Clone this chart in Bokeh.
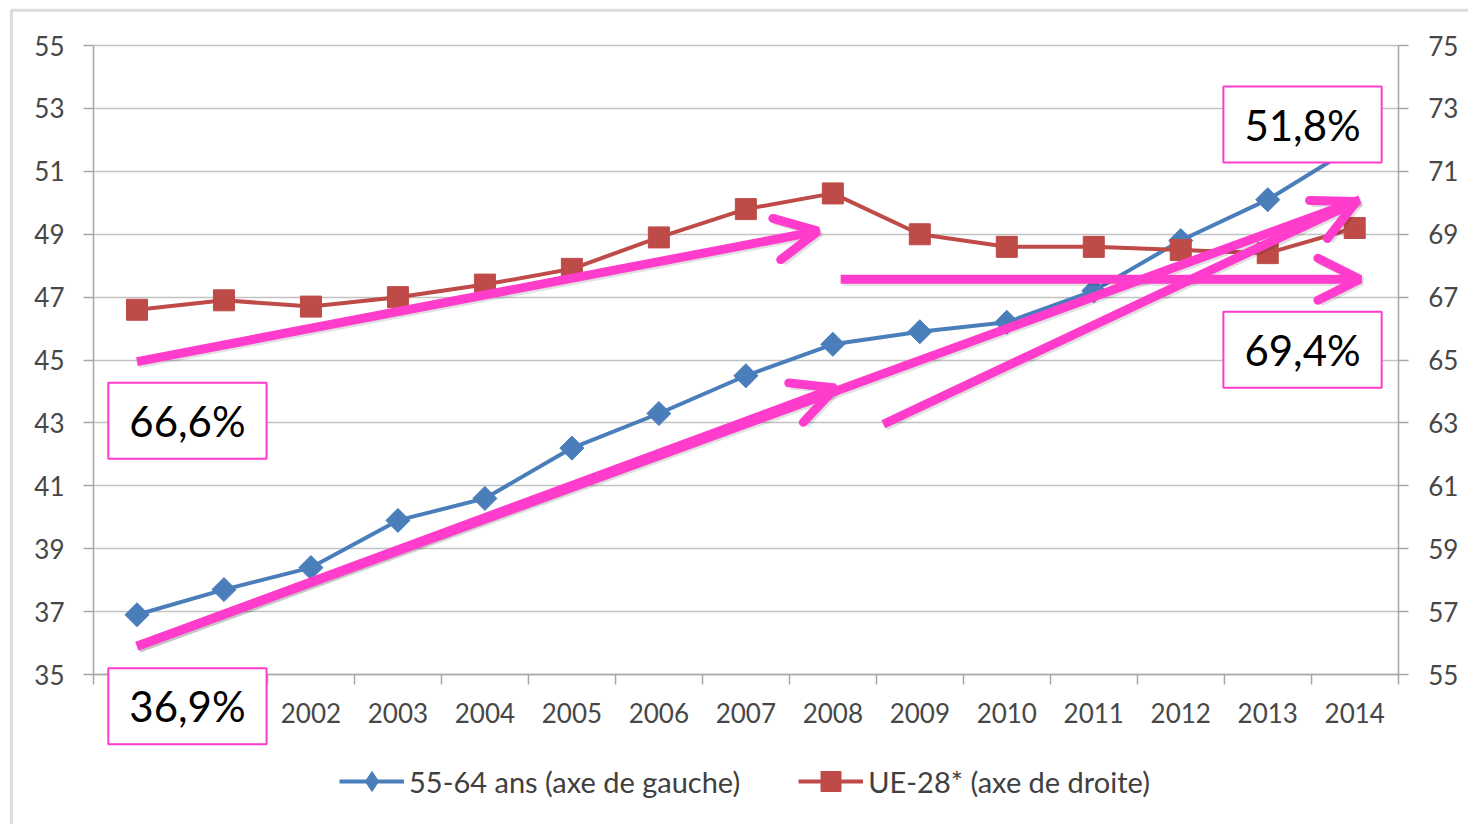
from bokeh.plotting import figure
from bokeh.models import (Range1d, LinearAxis, FixedTicker, Legend, LegendItem,
                          Label, Arrow, OpenHead, Grid, BoxAnnotation)
from bokeh.embed import file_html
from bokeh.resources import INLINE

# ---------------- data ----------------
years = ["2000", "2001", "2002", "2003", "2004", "2005", "2006", "2007",
         "2008", "2009", "2010", "2011", "2012", "2013", "2014"]
age_55_64 = [36.9, 37.7, 38.4, 39.9, 40.6, 42.2, 43.3, 44.5,
             45.5, 45.9, 46.2, 47.2, 48.8, 50.1, 51.8]
ue28 = [66.6, 66.9, 66.7, 67.0, 67.4, 67.9, 68.9, 69.8,
        70.3, 69.0, 68.6, 68.6, 68.5, 68.4, 69.2]
left_ticks = [35, 37, 39, 41, 43, 45, 47, 49, 51, 53, 55]
right_ticks = [55, 57, 59, 61, 63, 65, 67, 69, 71, 73, 75]
series_labels = ["55-64 ans (axe de gauche)", "UE-28* (axe de droite)"]

# callout boxes (text, x in year index, y on left axis)
box_texts = ["66,6%", "36,9%", "51,8%", "69,4%"]
box_x = [0.58, 0.58, 13.40, 13.40]
box_y = [43.07, 33.99, 52.49, 45.33]

# pink trend arrows (start x, start y, end x, end y, with head?)
arr_x0 = [0.0, 0.0, 0.0, 8.58, 8.09]
arr_y0 = [44.95, 35.9, 35.9, 42.96, 47.57]
arr_x1 = [7.83, 8.03, 14.06, 14.02, 14.06]
arr_y1 = [49.1, 44.11, 50.1, 50.04, 47.57]
arr_head = [True, True, False, True, True]

xs = list(range(len(years)))
n = len(years)

# ---------------- layout (pixels) ----------------
W, H = 1468, 824
PX_LEFT, PX_RIGHT = 93.0, 1397.7     # x of first/last category boundary
PX_TOP, PX_BOTTOM = 45.1, 674.0      # y of 55 / 35 on the left axis
sx = (PX_RIGHT - PX_LEFT) / n
sy = (PX_BOTTOM - PX_TOP) / (left_ticks[-1] - left_ticks[0])
x0 = -0.5 - PX_LEFT / sx
x1 = n - 0.5 + (W - PX_RIGHT) / sx
y1 = left_ticks[-1] + PX_TOP / sy
y0 = left_ticks[0] - (H - PX_BOTTOM) / sy
off = right_ticks[0] - left_ticks[0]

FONT = "Lato"
PINK = "#ff3ccc"
BLUE = "#4a7ebb"
RED = "#be4b48"
GRID = "#c2c2c2"
AXIS = "#a6a6a6"
TICKTXT = "#474747"

p = figure(frame_width=W, frame_height=H,
           min_border=0, min_border_left=0, min_border_right=0,
           min_border_top=0, min_border_bottom=0,
           x_range=Range1d(x0, x1), y_range=Range1d(y0, y1),
           output_backend="svg", toolbar_location=None,
           x_axis_type=None, y_axis_type=None)
p.extra_y_ranges = {"right": Range1d(y0 + off, y1 + off)}
p.outline_line_color = None
p.background_fill_color = "white"
p.border_fill_color = "white"

# chart border (left and top)
p.add_layout(BoxAnnotation(left=x0 + 10.9 / sx, top=y1 - 9.8 / sy,
                           right=x1 + 5, bottom=y0 - 5,
                           fill_alpha=0, line_color="#8c8c8c", line_width=3,
                           level="underlay"))

# horizontal grid limited to the plot area
grid = Grid(dimension=1, ticker=FixedTicker(ticks=left_ticks),
            cross_bounds=(-0.5, n - 0.5),
            grid_line_color=GRID, grid_line_width=1.6)
p.add_layout(grid, "center")

# x axis
xaxis = LinearAxis(ticker=FixedTicker(ticks=xs, minor_ticks=[i - 0.5 for i in range(n + 1)]),
                   major_label_overrides={i: y for i, y in enumerate(years)},
                   fixed_location=left_ticks[0], bounds=(-0.5, n - 0.5))
xaxis.major_tick_line_color = None
xaxis.major_tick_out = 10
xaxis.major_tick_in = 0
xaxis.minor_tick_line_color = AXIS
xaxis.minor_tick_line_width = 1.5
xaxis.minor_tick_out = 10
xaxis.minor_tick_in = 0
xaxis.axis_line_color = AXIS
xaxis.axis_line_width = 1.5
xaxis.major_label_text_font = FONT
xaxis.major_label_text_font_size = "26px"
xaxis.major_label_text_color = TICKTXT
xaxis.major_label_standoff = 18
p.add_layout(xaxis, "below")

# y axes
laxis = LinearAxis(ticker=FixedTicker(ticks=left_ticks), fixed_location=-0.5,
                   bounds=(left_ticks[0], left_ticks[-1]))
raxis = LinearAxis(ticker=FixedTicker(ticks=right_ticks), y_range_name="right",
                   fixed_location=n - 0.5, bounds=(right_ticks[0], right_ticks[-1]))
for ax, so in ((laxis, 19), (raxis, 20)):
    ax.major_tick_line_color = AXIS
    ax.major_tick_line_width = 1.5
    ax.major_tick_out = 10
    ax.major_tick_in = 0
    ax.minor_tick_line_color = None
    ax.axis_line_color = AXIS
    ax.axis_line_width = 1.5
    ax.major_label_text_font = FONT
    ax.major_label_text_font_size = "26px"
    ax.major_label_text_color = TICKTXT
    ax.major_label_standoff = so
p.add_layout(laxis, "left")
p.add_layout(raxis, "right")

# series
bl = p.line(xs, age_55_64, line_color=BLUE, line_width=4)
# diamond version (hidden under the markers) used for the legend swatch
bd = p.scatter(xs, age_55_64, marker="diamond", size=18,
               fill_color=BLUE, line_color=BLUE)
bs = p.scatter(xs, age_55_64, marker="square", angle=0.785398, size=17,
               fill_color=BLUE, line_color=BLUE)
rl = p.line(xs, ue28, line_color=RED, line_width=4, y_range_name="right")
rs = p.scatter(xs, ue28, marker="square", size=21, fill_color=RED, line_color=RED,
               y_range_name="right")

legend = Legend(items=[LegendItem(label=series_labels[0], renderers=[bl, bd]),
                       LegendItem(label=series_labels[1], renderers=[rl, rs])],
                orientation="horizontal", location=(339, 18),
                glyph_width=65, glyph_height=50, label_standoff=5, spacing=58,
                padding=0, margin=0, border_line_color=None,
                background_fill_alpha=0,
                label_text_font=FONT, label_text_font_size="29px",
                label_text_color="#404040")
p.add_layout(legend, "center")

# arrows: shadow then arrow
dx, dy = 2.0 / sx, -2.0 / sy
for a0, b0, a1, b1, h in zip(arr_x0, arr_y0, arr_x1, arr_y1, arr_head):
    p.add_layout(Arrow(x_start=a0 + dx, y_start=b0 + dy, x_end=a1 + dx, y_end=b1 + dy,
                       line_color="black", line_alpha=0.12, line_width=9,
                       end=OpenHead(size=42, line_color="black", line_alpha=0.12,
                                    line_width=9) if h else None))
for a0, b0, a1, b1, h in zip(arr_x0, arr_y0, arr_x1, arr_y1, arr_head):
    p.add_layout(Arrow(x_start=a0, y_start=b0, x_end=a1, y_end=b1,
                       line_color=PINK, line_width=9,
                       end=OpenHead(size=42, line_color=PINK, line_width=9,
                                    line_cap="round") if h else None))

for t, bx, by in zip(box_texts, box_x, box_y):
    p.add_layout(Label(x=bx, y=by, text=t, text_font=FONT, text_font_size="42px",
                       text_color="black", text_align="center", text_baseline="middle",
                       background_fill_color="white", border_line_color=PINK,
                       border_line_width=2, padding=(21, 13)))

open("out.html", "w").write(file_html(p, INLINE))
